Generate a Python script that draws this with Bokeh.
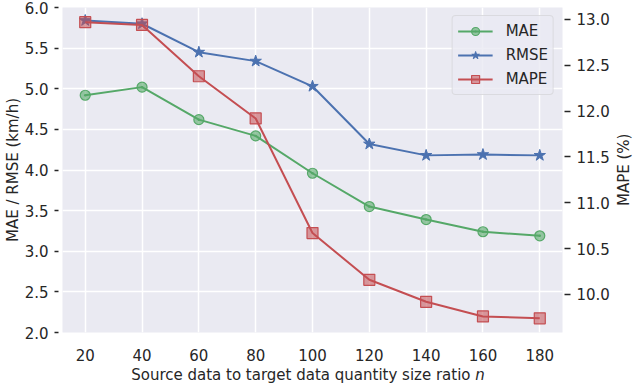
import math
from bokeh.plotting import figure
from bokeh.layouts import column, row
from bokeh.models import (Range1d, LinearAxis, FixedTicker, Legend, LegendItem, Div,
                          PrintfTickFormatter)
from bokeh.embed import file_html
from bokeh.resources import INLINE

ratio = [20, 40, 60, 80, 100, 120, 140, 160, 180]
mae = [4.92, 5.02, 4.62, 4.42, 3.96, 3.55, 3.39, 3.24, 3.19]
rmse = [5.84, 5.80, 5.45, 5.34, 5.03, 4.32, 4.18, 4.19, 4.18]
mape = [12.97, 12.94, 12.38, 11.92, 10.67, 10.16, 9.92, 9.76, 9.74]

left_ticks = [2.0, 2.5, 3.0, 3.5, 4.0, 4.5, 5.0, 5.5, 6.0]
right_ticks = [10.0, 10.5, 11.0, 11.5, 12.0, 12.5, 13.0]
x_ticks = [20, 40, 60, 80, 100, 120, 140, 160, 180]

FONT = "DejaVu Sans"
TXT = "#262626"
GREEN = "#55A868"
BLUE = "#4C72B0"
RED = "#C44E52"
BG = "#EAEAF2"

FW, FH = 500, 325
p = figure(frame_width=FW, frame_height=FH, output_backend="svg", toolbar_location=None,
           x_range=Range1d(12, 188), y_range=Range1d(2.0, 6.0),
           min_border_left=58, min_border_right=48, min_border_top=7, min_border_bottom=30)
p.background_fill_color = BG
p.border_fill_color = "white"
p.outline_line_color = None
p.extra_y_ranges = {"mape": Range1d(9.585, 13.13)}

# grid
p.xgrid.grid_line_color = "white"
p.ygrid.grid_line_color = "white"
p.xgrid.grid_line_width = 1.5
p.ygrid.grid_line_width = 1.5
p.xgrid.ticker = FixedTicker(ticks=x_ticks)
p.ygrid.ticker = FixedTicker(ticks=left_ticks)

# x axis
xa = p.xaxis[0]
xa.ticker = FixedTicker(ticks=x_ticks)
xa.axis_line_color = None
xa.major_tick_line_color = None
xa.minor_tick_line_color = None
xa.major_label_text_font = FONT
xa.major_label_text_font_size = "15px"
xa.major_label_text_color = TXT
xa.major_label_standoff = 10

# left axis
ya = p.yaxis[0]
ya.ticker = FixedTicker(ticks=left_ticks)
ya.formatter = PrintfTickFormatter(format="%.1f")
ya.axis_line_color = None
ya.major_tick_in = -4
ya.major_tick_out = 8
ya.major_tick_line_color = TXT
ya.major_tick_line_width = 1.5
ya.minor_tick_line_color = None
ya.major_label_text_font = FONT
ya.major_label_text_font_size = "15px"
ya.major_label_text_color = TXT
ya.major_label_standoff = 6
ya.axis_label = "MAE / RMSE (km/h)"
ya.axis_label_text_font = FONT
ya.axis_label_text_font_size = "15px"
ya.axis_label_text_font_style = "normal"
ya.axis_label_text_color = TXT
ya.axis_label_standoff = 0

# right axis
ra = LinearAxis(y_range_name="mape", ticker=FixedTicker(ticks=right_ticks),
                formatter=PrintfTickFormatter(format="%.1f"))
ra.axis_line_color = None
ra.major_tick_in = -2
ra.major_tick_out = 8
ra.major_tick_line_color = TXT
ra.major_tick_line_width = 1.5
ra.minor_tick_line_color = None
ra.major_label_text_font = FONT
ra.major_label_text_font_size = "15px"
ra.major_label_text_color = TXT
ra.major_label_standoff = 6
p.add_layout(ra, "right")

# series
l1 = p.line(ratio, mae, line_color=GREEN, line_width=2)
m1 = p.scatter(ratio, mae, marker="circle_dot", size=10, line_color=GREEN,
               fill_color=GREEN, fill_alpha=0.6, line_width=1.2)
l2 = p.line(ratio, rmse, line_color=BLUE, line_width=2)
m2 = p.scatter(ratio, rmse, marker="star", size=12, line_color=BLUE,
               fill_color=BLUE, line_width=1)
l3 = p.line(ratio, mape, line_color=RED, line_width=2, y_range_name="mape")
m3 = p.scatter(ratio, mape, marker="square", size=11, line_color=RED,
               fill_color=RED, fill_alpha=0.55, line_width=1.2, y_range_name="mape")

legend = Legend(items=[
    LegendItem(label="MAE", renderers=[l1, m1]),
    LegendItem(label="RMSE", renderers=[l2, m2]),
    LegendItem(label="MAPE", renderers=[l3, m3]),
], location="top_right")
legend.label_text_font = FONT
legend.label_text_font_size = "15px"
legend.label_text_color = TXT
legend.background_fill_color = BG
legend.background_fill_alpha = 0.8
legend.border_line_color = "#cccccc"
legend.border_line_width = 1
legend.border_radius = 4
legend.glyph_width = 35
legend.glyph_height = 20
legend.label_height = 20
legend.spacing = 4
legend.padding = 5
legend.margin = 8
legend.label_standoff = 13
p.add_layout(legend)

xlabel = Div(text="Source data to target data quantity size ratio <i>n</i>",
             width=FW, height=18, margin=(4, 0, 0, 58),
             styles={"font-family": FONT, "font-size": "15px", "color": TXT,
                     "text-align": "center", "line-height": "17px",
                     "white-space": "nowrap"})

ylabel_right = Div(text="MAPE (%)", width=18, height=FH, margin=(7, 0, 0, 3),
                   styles={"font-family": FONT, "font-size": "15px", "color": TXT,
                           "writing-mode": "vertical-rl", "transform": "rotate(180deg)",
                           "text-align": "center", "line-height": "18px",
                           "white-space": "nowrap"})

layout = row(column(p, xlabel, spacing=0), ylabel_right, spacing=0)

open("out.html", "w").write(file_html(layout, INLINE))
